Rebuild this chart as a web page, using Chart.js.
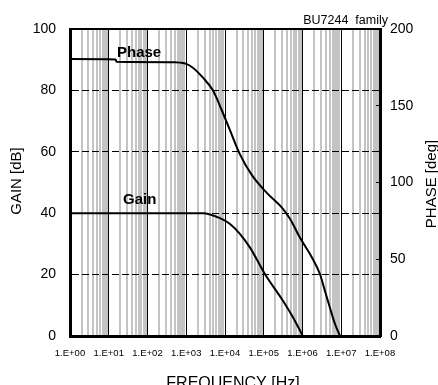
<!DOCTYPE html>
<html>
<head>
<meta charset="utf-8">
<script src="https://cdn.jsdelivr.net/npm/chart.js@4"></script>
<style>
  html, body { margin: 0; padding: 0; background: #fff; }
  canvas { display: block; }
</style>
</head>
<body>
<canvas id="bode" width="438" height="385"></canvas>
<script>
// 频率轴刻度标签 (每个十倍频一个)
const decadeLabels = ['1.E+00', '1.E+01', '1.E+02', '1.E+03', '1.E+04', '1.E+05', '1.E+06', '1.E+07', '1.E+08'];

// Gain 曲线 (Hz, dB)
const gainFreq = [1, 2700, 7400, 13500, 24500, 44700, 107000, 316000, 562000, 1020000];
const gainDb   = [40, 40, 38.4, 36.5, 33.2, 28.7, 20.2, 11.4, 6.2, 0];

// Phase 曲线 (Hz, deg)
const phaseFreq = [1, 15, 16, 500, 700, 1000, 1480, 2700, 4900, 8300, 13500, 24500, 50000,
                   120000, 316000, 479000, 871000, 1780000, 2820000, 3800000, 5130000, 6900000, 9300000];
const phaseDeg  = [180.4, 180.2, 178.6, 178.4, 178.1, 177.3, 174.8, 168.3, 159.9, 146.9, 133.9, 118.2, 104.6,
                   93.2, 82.7, 76.2, 63.8, 50.8, 40.4, 29.3, 18.2, 7.8, 0];

const FONT = "'Liberation Sans', Arial, sans-serif";

// 对数网格: 1..9 x 10^n
const gridFreqs = [];
for (let n = 0; n < 8; n++) {
    for (let k = 1; k <= 9; k++) gridFreqs.push(k * Math.pow(10, n));
}
gridFreqs.push(1e8);

const isDecade = v => {
    const e = Math.log10(v);
    return Math.abs(e - Math.round(e)) < 1e-9;
};

// 外框上边 + 文字标注
const overlay = {
    id: 'overlay',
    afterDraw(chart) {
        const { ctx, chartArea: a } = chart;
        ctx.save();
        ctx.strokeStyle = '#000';
        ctx.lineWidth = 2;
        ctx.beginPath();
        ctx.moveTo(a.left - 1, a.top);
        ctx.lineTo(a.right + 1, a.top);
        ctx.stroke();

        ctx.fillStyle = '#000';
        ctx.textBaseline = 'alphabetic';

        ctx.font = 'bold 15px ' + FONT;
        ctx.textAlign = 'left';
        ctx.fillText('Phase', 117, 57);
        ctx.fillText('Gain', 123, 204);

        ctx.font = '12.5px ' + FONT;
        ctx.textAlign = 'right';
        ctx.fillText('BU7244  family', 388, 24);

        ctx.font = '16px ' + FONT;
        ctx.textAlign = 'center';
        ctx.fillText('FREQUENCY [Hz]', 233, 388);

        ctx.font = '15px ' + FONT;
        ctx.save();
        ctx.translate(21, 181);
        ctx.rotate(-Math.PI / 2);
        ctx.fillText('GAIN [dB]', 0, 0);
        ctx.restore();

        ctx.save();
        ctx.translate(436, 184);
        ctx.rotate(-Math.PI / 2);
        ctx.fillText('PHASE [deg]', 0, 0);
        ctx.restore();
        ctx.restore();
    }
};

new Chart(document.getElementById('bode'), {
    type: 'line',
    data: {
        datasets: [
            {
                label: 'Phase',
                data: phaseFreq.map((f, i) => ({ x: f, y: phaseDeg[i] })),
                yAxisID: 'y2',
                borderColor: '#000', borderWidth: 2, pointRadius: 0,
                cubicInterpolationMode: 'monotone'
            },
            {
                label: 'Gain',
                data: gainFreq.map((f, i) => ({ x: f, y: gainDb[i] })),
                yAxisID: 'y',
                borderColor: '#000', borderWidth: 2, pointRadius: 0,
                cubicInterpolationMode: 'monotone'
            }
        ]
    },
    options: {
        responsive: false, animation: false,
        layout: { padding: { top: 29, left: 0, right: 0, bottom: 0 } },
        plugins: { legend: { display: false }, tooltip: { enabled: false } },
        scales: {
            x: {
                type: 'logarithmic', position: 'bottom', min: 1, max: 1e8,
                afterBuildTicks: s => { s.ticks = gridFreqs.map(v => ({ value: v })); },
                afterFit: s => { s.height = 49; },
                border: { display: true, color: '#000', width: 3 },
                grid: {
                    drawTicks: false,
                    color: c => isDecade(c.tick.value) ? '#000' : '#c4c4c4',
                    lineWidth: c => isDecade(c.tick.value) ? 1 : 2
                },
                ticks: {
                    autoSkip: false, maxRotation: 0, minRotation: 0, padding: 12,
                    color: '#000', font: { family: FONT, size: 9.5 },
                    callback: v => isDecade(v) ? decadeLabels[Math.round(Math.log10(v))] : ''
                }
            },
            y: {
                position: 'left', min: 0, max: 100,
                afterFit: s => { s.width = 70; },
                border: { display: true, color: '#000', width: 3, dash: [7, 3] },
                grid: {
                    drawTicks: false,
                    color: c => (c.tick.value === 0 || c.tick.value === 100) ? 'rgba(0,0,0,0)' : '#000',
                    lineWidth: 1
                },
                ticks: { stepSize: 20, padding: 14, color: '#000', font: { family: FONT, size: 14 } }
            },
            y2: {
                position: 'right', min: 0, max: 200,
                afterFit: s => { s.width = 58; },
                border: { display: true, color: '#000', width: 3 },
                grid: { drawOnChartArea: false, drawTicks: true, tickLength: -4, color: '#000' },
                ticks: { stepSize: 50, padding: 14, color: '#000', font: { family: FONT, size: 14 } }
            }
        }
    },
    plugins: [overlay]
});
</script>
</body>
</html>
